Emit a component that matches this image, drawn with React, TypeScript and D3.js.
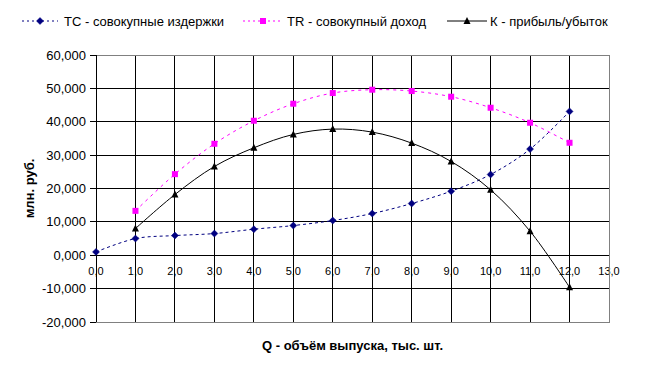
import React from "react";
import * as d3 from "d3";

const qValues = [0, 1, 2, 3, 4, 5, 6, 7, 8, 9, 10, 11, 12];
const tcValues = [1.0, 5.0, 5.9, 6.5, 7.8, 8.9, 10.4, 12.5, 15.5, 19.2, 24.2, 31.8, 43.1];
const trValues = [null, 13.3, 24.3, 33.4, 40.3, 45.4, 48.6, 49.6, 49.2, 47.5, 44.2, 39.7, 33.7];
const kValues = [null, 8.0, 18.2, 26.6, 32.2, 36.2, 37.8, 36.9, 33.6, 28.1, 19.6, 7.2, -9.6];
const xTicks = [0, 1, 2, 3, 4, 5, 6, 7, 8, 9, 10, 11, 12, 13];
const yTicks = [-20, -10, 0, 10, 20, 30, 40, 50, 60];
const seriesNames = ["TC - совокупные издержки", "TR - совокупный доход", "К - прибыль/убыток"];
const xTitle = "Q - объём выпуска, тыс. шт.";
const yTitle = "млн. руб.";

const W = 648;
const H = 369;
const left = 96;
const right = 609;
const top = 55;
const bottom = 322;
const FONT = "Arial, 'Liberation Sans', sans-serif";

export default function App() {
  const x = d3.scaleLinear().domain([0, 13]).range([left, right]);
  const y = d3.scaleLinear().domain([-20, 60]).range([bottom, top]);

  const mk = (vals: (number | null)[]) =>
    qValues.map((q, i) => ({ q, v: vals[i] })).filter((d) => d.v !== null) as { q: number; v: number }[];

  const line = d3
    .line<{ q: number; v: number }>()
    .x((d) => x(d.q))
    .y((d) => y(d.v))
    .curve(d3.curveCatmullRom.alpha(0.5));

  const tc = mk(tcValues);
  const tr = mk(trValues);
  const k = mk(kValues);

  const fmtY = (v: number) => (v < 0 ? "-" : "") + Math.abs(v).toFixed(3).replace(".", ",");
  const fmtX = (v: number) => v.toFixed(1).replace(".", ",");

  const navy = "#000080";
  const magenta = "#FF00FF";

  const diamond = (cx: number, cy: number, key?: any) => (
    <path key={key} d={`M${cx},${cy - 3.5}L${cx + 3.5},${cy}L${cx},${cy + 3.5}L${cx - 3.5},${cy}Z`} fill={navy} stroke={navy} strokeWidth={0.5} />
  );
  const square = (cx: number, cy: number, key?: any) => (
    <rect key={key} x={cx - 3} y={cy - 3} width={6} height={6} fill={magenta} />
  );
  const triangle = (cx: number, cy: number, key?: any) => (
    <path key={key} d={`M${cx},${cy - 4}L${cx + 3.5},${cy + 3}L${cx - 3.5},${cy + 3}Z`} fill="#000" />
  );

  const legendY = 21;

  return (
    <svg width={W} height={H} style={{ position: "absolute", left: 0, top: 0, background: "#fff" }} fontFamily={FONT}>
      <rect x={0} y={0} width={W} height={H} fill="#fff" />
      {/* x tick labels (drawn under gridlines) */}
      {xTicks.map((t) => (
        <text key={"xl" + t} x={x(t)} y={275} fontSize={11} textAnchor="middle" fill="#000">
          {fmtX(t)}
        </text>
      ))}
      {/* horizontal gridlines */}
      {yTicks.map((t) =>
        t === 60 || t === -20 ? null : (
          <line key={"hg" + t} x1={left} x2={right} y1={y(t)} y2={y(t)} stroke="#000" strokeWidth={1} shapeRendering="crispEdges" />
        )
      )}
      {/* vertical gridlines */}
      {xTicks.map((t) =>
        t === 0 || t === 13 ? null : (
          <line key={"vg" + t} x1={x(t)} x2={x(t)} y1={top} y2={bottom} stroke="#000" strokeWidth={1} shapeRendering="crispEdges" />
        )
      )}
      {/* plot border */}
      <rect x={left} y={top} width={right - left} height={bottom - top} fill="none" stroke="#808080" strokeWidth={1} shapeRendering="crispEdges" />
      {/* y axis */}
      <line x1={left} x2={left} y1={top} y2={bottom} stroke="#000" strokeWidth={1} shapeRendering="crispEdges" />
      {yTicks.map((t) => (
        <g key={"yt" + t}>
          <line x1={left - 6} x2={left} y1={y(t)} y2={y(t)} stroke="#000" strokeWidth={1} shapeRendering="crispEdges" />
          <text x={86} y={y(t) + 4.5} fontSize={13} textAnchor="end" fill="#000">
            {fmtY(t)}
          </text>
        </g>
      ))}
      {/* series lines */}
      <path d={line(tc) || ""} fill="none" stroke={navy} strokeWidth={1} strokeDasharray="3,3" />
      <path d={line(tr) || ""} fill="none" stroke={magenta} strokeWidth={1} strokeDasharray="3,4" />
      <path d={line(k) || ""} fill="none" stroke="#000" strokeWidth={1} />
      {/* markers */}
      {tc.map((d, i) => diamond(x(d.q), y(d.v), "tc" + i))}
      {tr.map((d, i) => square(x(d.q), y(d.v), "tr" + i))}
      {k.map((d, i) => triangle(x(d.q), y(d.v), "k" + i))}
      {/* axis titles */}
      <text x={(left + right) / 2} y={350} fontSize={13} fontWeight="bold" textAnchor="middle" fill="#000">
        {xTitle}
      </text>
      <text transform={`translate(34,${(top + bottom) / 2}) rotate(-90)`} fontSize={13} fontWeight="bold" textAnchor="middle" fill="#000">
        {yTitle}
      </text>
      {/* legend */}
      <g>
        <line x1={22} x2={58} y1={legendY} y2={legendY} stroke={navy} strokeDasharray="2,3" />
        {diamond(40, legendY)}
        <text x={64} y={legendY + 4.5} fontSize={13} fill="#000">{seriesNames[0]}</text>
        <line x1={243} x2={283} y1={legendY} y2={legendY} stroke={magenta} strokeDasharray="2,3" />
        {square(263, legendY)}
        <text x={287} y={legendY + 4.5} fontSize={13} fill="#000">{seriesNames[1]}</text>
        <line x1={447} x2={487} y1={legendY} y2={legendY} stroke="#000" />
        {triangle(467, legendY)}
        <text x={490} y={legendY + 4.5} fontSize={13} fill="#000">{seriesNames[2]}</text>
      </g>
    </svg>
  );
}
